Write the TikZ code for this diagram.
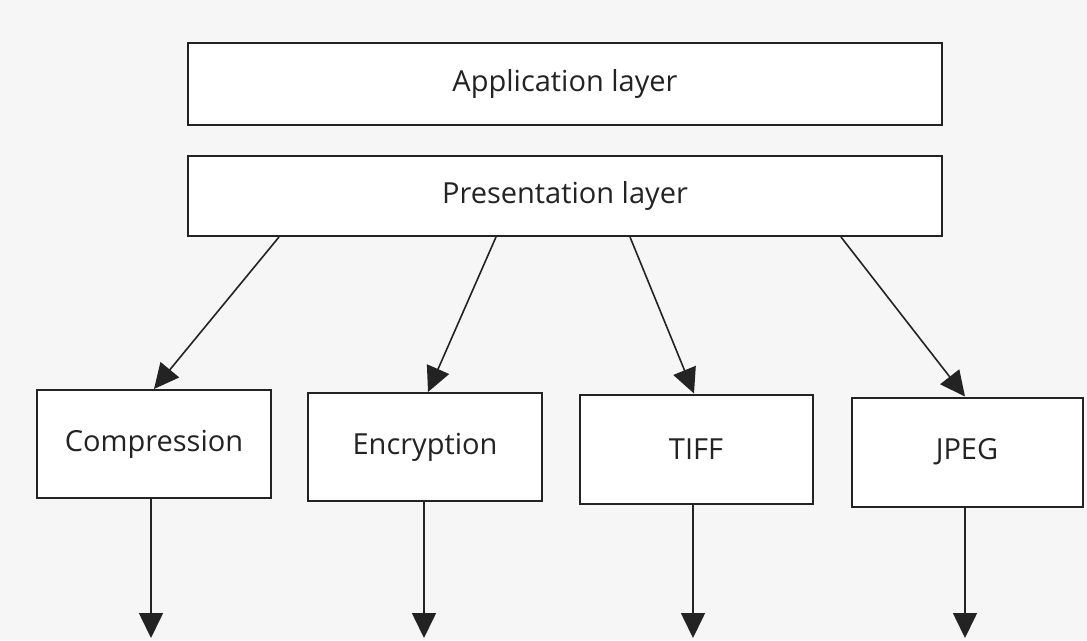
\documentclass[tikz,border=0pt]{standalone}
\usepackage{fontspec}
\setmainfont{Open Sans}
\usetikzlibrary{arrows.meta,calc}
\definecolor{ink}{RGB}{35,35,35}
\definecolor{paper}{RGB}{246,246,246}
\tikzset{
  layerbox/.style={draw=ink, line width=2pt, fill=white, inner sep=0pt, font=\fontsize{29}{34}\selectfont, text=ink},
  link/.style={draw=ink, line width=1.6pt, -{Triangle[length=25pt,width=24pt]}},
}
\begin{document}
\begin{tikzpicture}[x=1pt,y=-1pt]
\fill[paper] (0,0) rectangle (1087,640);
\useasboundingbox (0,0) rectangle (1087,640);
% top boxes
\node[layerbox, minimum width=754pt, minimum height=82pt] (app) at (565,84) {Application layer};
\node[layerbox, minimum width=754pt, minimum height=80pt] (pres) at (565,196) {Presentation layer};
% lower boxes
\node[layerbox, minimum width=234pt, minimum height=108pt] (comp) at (154,444) {Compression};
\node[layerbox, minimum width=234pt, minimum height=108pt] (enc) at (425,447) {Encryption};
\node[layerbox, minimum width=233pt, minimum height=109pt] (tiff) at (696,449) {TIFF};
\node[layerbox, minimum width=231pt, minimum height=109pt] (jpeg) at (967,452) {JPEG};
% arrows from presentation layer
\draw[link] ($(pres.south west)+(92,0)$) -- (comp.north);
\draw[link] ($(pres.south west)+(309,0)$) -- ($(enc.north)+(3,0)$);
\draw[link] ($(pres.south west)+(443,0)$) -- ($(tiff.north)+(-2,0)$);
\draw[link] ($(pres.south west)+(654,0)$) -- ($(jpeg.north)+(-2,0)$);
% outgoing arrows
\coordinate (c1) at (151,638);
\coordinate (c2) at (424,638);
\coordinate (c3) at (693,638);
\coordinate (c4) at (965,638);
\draw[link] (comp.south -| c1) -- (c1);
\draw[link] (enc.south -| c2) -- (c2);
\draw[link] (tiff.south -| c3) -- (c3);
\draw[link] (jpeg.south -| c4) -- (c4);
\end{tikzpicture}
\end{document}
